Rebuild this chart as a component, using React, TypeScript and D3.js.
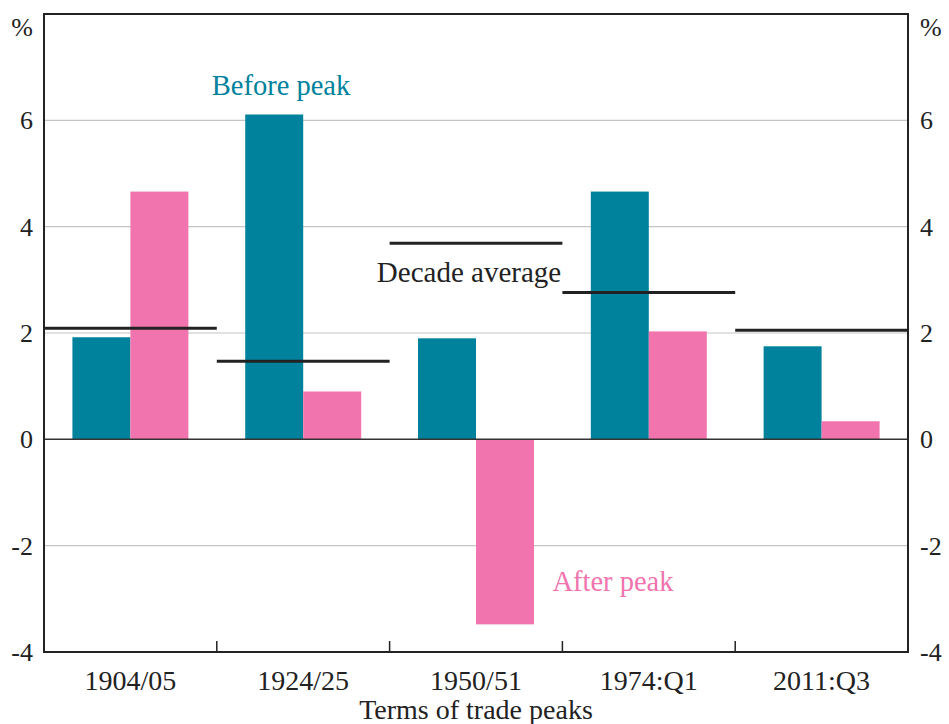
import * as d3 from 'd3';

const categories = ['1904/05', '1924/25', '1950/51', '1974:Q1', '2011:Q3'];
const beforePeak = [1.92, 6.11, 1.9, 4.66, 1.75];
const afterPeak = [4.66, 0.9, -3.48, 2.03, 0.34];
const decadeAverage = [2.09, 1.47, 3.69, 2.76, 2.05];
const yTicks = [-4, -2, 0, 2, 4, 6];

const W = 949;
const H = 724;
const margin = { top: 14, right: 41, bottom: 72, left: 44 };
const teal = '#00829d';
const pink = '#f174ae';
const font = '"Liberation Serif", "Times New Roman", serif';

export default function App() {
    const x = d3.scaleBand<string>()
        .domain(categories)
        .range([margin.left, W - margin.right]);
    const inner = d3.scaleBand<string>()
        .domain(['before', 'after'])
        .range([0, x.bandwidth()])
        .paddingOuter(0.49)
        .paddingInner(0);
    const y = d3.scaleLinear()
        .domain([-4, 8])
        .range([H - margin.bottom, margin.top]);

    const left = margin.left;
    const right = W - margin.right;
    const top = margin.top;
    const bottom = H - margin.bottom;

    return (
        <svg width={W} height={H} style={{ position: 'absolute', left: 0, top: 0, background: '#fff' }} fontFamily={font}>
            {/* gridlines */}
            {yTicks.filter(t => t !== 0 && t !== -4).map(t => (
                <line key={t} x1={left} x2={right} y1={y(t)} y2={y(t)} stroke="#c4c4c4" strokeWidth={1.2} />
            ))}

            {/* bars */}
            {categories.map((c, i) => {
                const bx = x(c) || 0;
                const b = beforePeak[i];
                const a = afterPeak[i];
                return (
                    <g key={c}>
                        <rect x={bx + (inner('before') || 0)} width={inner.bandwidth()}
                            y={y(Math.max(0, b))} height={Math.abs(y(b) - y(0))} fill={teal} />
                        <rect x={bx + (inner('after') || 0)} width={inner.bandwidth()}
                            y={y(Math.max(0, a))} height={Math.abs(y(a) - y(0))} fill={pink} />
                    </g>
                );
            })}

            {/* zero line */}
            <line x1={left} x2={right} y1={y(0)} y2={y(0)} stroke="#333" strokeWidth={1.5} />

            {/* decade averages */}
            {categories.map((c, i) => (
                <line key={c} x1={x(c) || 0} x2={(x(c) || 0) + x.bandwidth()}
                    y1={y(decadeAverage[i])} y2={y(decadeAverage[i])} stroke="#222" strokeWidth={3} />
            ))}

            {/* frame */}
            <rect x={left} y={top} width={right - left} height={bottom - top} fill="none" stroke="#222" strokeWidth={2} />

            {/* x ticks */}
            {categories.slice(1).map(c => (
                <line key={c} x1={x(c) || 0} x2={x(c) || 0} y1={bottom} y2={bottom - 11} stroke="#222" strokeWidth={1.5} />
            ))}

            {/* y labels */}
            {yTicks.map(t => (
                <g key={t} fontSize={26} fill="#222">
                    <text x={left - 11} y={y(t)} dy="0.35em" textAnchor="end">{t}</text>
                    <text x={right + 12} y={y(t)} dy="0.35em" textAnchor="start">{t}</text>
                </g>
            ))}
            <text x={left - 11} y={27} dy="0.35em" textAnchor="end" fontSize={26} fill="#222">%</text>
            <text x={right + 12} y={27} dy="0.35em" textAnchor="start" fontSize={26} fill="#222">%</text>

            {/* x labels */}
            {categories.map(c => (
                <text key={c} x={(x(c) || 0) + x.bandwidth() / 2} y={690} textAnchor="middle" fontSize={28} fill="#222">{c}</text>
            ))}
            <text x={(left + right) / 2} y={719} textAnchor="middle" fontSize={28} fill="#222">Terms of trade peaks</text>

            {/* annotations */}
            <text x={281} y={95} textAnchor="middle" fontSize={28.5} fill={teal}>Before peak</text>
            <text x={613} y={591} textAnchor="middle" fontSize={28.5} fill={pink}>After peak</text>
            <text x={469} y={282} textAnchor="middle" fontSize={29} fill="#222">Decade average</text>
        </svg>
    );
}
